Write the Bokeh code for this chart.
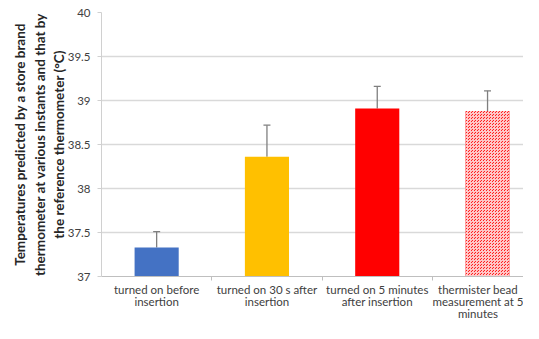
from bokeh.plotting import figure
from bokeh.models import ColumnDataSource, Range1d, FixedTicker, Whisker, TeeHead, Title
from bokeh.embed import file_html
from bokeh.resources import INLINE

categories = ["turned on before\ninsertion",
              "turned on 30 s after\ninsertion",
              "turned on 5 minutes\nafter insertion",
              "thermister bead\nmeasurement at 5\nminutes"]
means = [37.33, 38.36, 38.91, 38.88]
errors = [0.18, 0.36, 0.25, 0.23]
colors = ["#4472C4", "#FFC000", "#FF0000", "#FF2020"]
hatches = [" ", " ", " ", "criss_cross"]
y_ticks = [37, 37.5, 38, 38.5, 39, 39.5, 40]
y_label_lines = ["Temperatures predicted by a store brand",
                 "thermometer at various instants and that by",
                 "the reference thermometer (\u00b0C)"]

xs = [i + 0.5 for i in range(len(categories))]
uppers = [m + e for m, e in zip(means, errors)]

src = ColumnDataSource(dict(x=xs, top=means, upper=uppers, color=colors, hatch=hatches))

p = figure(width=523, height=323, output_backend="svg", toolbar_location=None,
           x_range=Range1d(0, 3.826), y_range=Range1d(37, 40),
           min_border_left=101, min_border_top=12, min_border_right=0, min_border_bottom=42)
p.outline_line_color = None
p.background_fill_color = "white"

p.vbar(x="x", top="top", bottom=37, width=0.4, source=src, fill_color="color",
       line_color=None, hatch_pattern="hatch", hatch_color="#ffc8c8", hatch_scale=3,
       hatch_weight=1)

w = Whisker(base="x", lower="top", upper="upper", source=src,
            line_color="#7f7f7f", line_width=1.3,
            upper_head=TeeHead(size=7, line_color="#7f7f7f", line_width=1.3),
            lower_head=None)
p.add_layout(w)

p.xaxis.ticker = FixedTicker(ticks=xs, minor_ticks=[1, 2, 3])
p.xaxis.major_label_overrides = {x: c for x, c in zip(xs, categories)}
p.xaxis.major_tick_out = 0
p.xaxis.major_tick_in = 0
p.xaxis.minor_tick_out = 4
p.xaxis.minor_tick_in = 0
p.xaxis.minor_tick_line_color = "#bfbfbf"
p.xaxis.axis_line_color = "#bfbfbf"
p.xaxis.major_label_text_font = "Lato"
p.xaxis.major_label_text_font_size = "11.5px"
p.xaxis.major_label_text_color = "#404040"
p.xaxis.major_label_text_line_height = 0.95
p.xaxis.major_label_standoff = 2
p.xaxis.major_label_orientation = "horizontal"
p.xaxis.axis_label_standoff = 0

p.yaxis.ticker = FixedTicker(ticks=y_ticks)
p.yaxis.major_label_overrides = {37: "37", 37.5: "37.5", 38: "38", 38.5: "38.5",
                                 39: "39", 39.5: "39.5", 40: "40"}
p.yaxis.minor_tick_line_color = None
p.yaxis.major_tick_out = 4
p.yaxis.major_tick_in = 0
p.yaxis.major_tick_line_color = "#d0d0d0"
p.yaxis.axis_line_color = "#d0d0d0"
p.yaxis.major_label_text_font = "Lato"
p.yaxis.major_label_text_font_size = "11.5px"
p.yaxis.major_label_text_color = "#404040"
p.yaxis.major_label_standoff = 7
p.yaxis.axis_label = y_label_lines[2]
p.yaxis.axis_label_standoff = -2
p.yaxis.axis_label_text_font = "Lato"
p.yaxis.axis_label_text_font_style = "bold"
p.yaxis.axis_label_text_font_size = "13.5px"
p.yaxis.axis_label_text_color = "#262626"

title_standoffs = [3, 0]
for line, so in zip(y_label_lines[1::-1], title_standoffs[::-1]):
    t = Title(text=line, align="center", text_font="Lato", text_font_style="bold",
              text_font_size="13.5px", text_color="#262626", standoff=so, offset=0)
    p.add_layout(t, "left")

p.xgrid.grid_line_color = None
p.ygrid.ticker = FixedTicker(ticks=y_ticks)
p.ygrid.grid_line_color = "#d9d9d9"
p.ygrid.grid_line_width = 1.5

open("out.html", "w").write(file_html(p, INLINE))
